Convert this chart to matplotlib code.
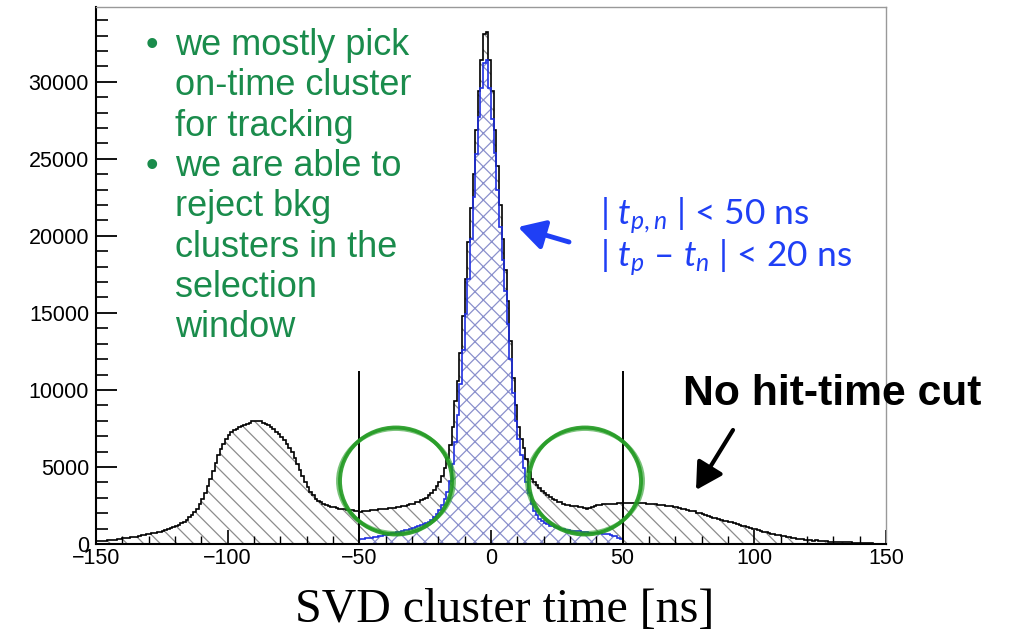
import numpy as np
import matplotlib
matplotlib.use("Agg")
import matplotlib.pyplot as plt
from matplotlib.patches import Ellipse
from matplotlib.ticker import MultipleLocator

plt.rcParams['font.family'] = ['Liberation Sans', 'DejaVu Sans']
plt.rcParams['mathtext.fontset'] = 'custom'
plt.rcParams['mathtext.rm'] = 'Lato'
plt.rcParams['mathtext.it'] = 'Lato:italic'
plt.rcParams['hatch.linewidth'] = 0.9

### SVD cluster time, 1 ns bins from -150 to 150
t_lo, t_hi = -150, 150

# all clusters (no hit-time cut), bins -150 .. -51
n_all_left = [190, 200, 210, 220, 230, 250, 270, 290, 320, 350,
              380, 400, 420, 440, 460, 480, 520, 560, 600, 640,
              670, 700, 730, 760, 800, 850, 900, 960, 1020, 1090,
              1170, 1260, 1360, 1460, 1580, 1720, 1880, 2070, 2300, 2580,
              2900, 3300, 3750, 4250, 4750, 5250, 5750, 6150, 6500, 6800,
              7050, 7250, 7380, 7480, 7580, 7650, 7720, 7800, 7870, 7950,
              8000, 7980, 7950, 7880, 7820, 7720, 7600, 7450, 7300, 7150,
              6950, 6750, 6500, 6250, 5950, 5600, 5200, 4800, 4400, 4050,
              3700, 3400, 3150, 2950, 2800, 2700, 2620, 2550, 2480, 2420,
              2380, 2340, 2300, 2270, 2250, 2230, 2200, 2180, 2150, 2120]
# bins -50 .. 44
n_all_core = [2100, 2110, 2140, 2160, 2180, 2200, 2220, 2240, 2250, 2270,
              2290, 2310, 2320, 2350, 2380, 2420, 2450, 2480, 2530, 2580,
              2620, 2700, 2750, 2850, 2920, 3000, 3150, 3300, 3500, 3750,
              4050, 4400, 4900, 5600, 6400, 7600, 9300, 10600, 12400, 14800,
              17200, 19600, 21800, 24000, 26900, 29400, 31400, 33100, 33200, 31400,
              29400, 26900, 24500, 22000, 19800, 17800, 15800, 13200, 10800, 9000,
              7600, 6800, 6200, 5500, 4700, 4200, 4000, 3800, 3650, 3450,
              3300, 3180, 3050, 2950, 2850, 2750, 2700, 2600, 2550, 2500,
              2470, 2480, 2450, 2420, 2380, 2320, 2300, 2330, 2400, 2450,
              2520, 2560, 2580, 2600, 2590]
# bins 45 .. 149
n_all_right = [2600, 2620, 2610, 2630, 2640, 2640, 2650, 2640, 2660, 2650,
               2650, 2640, 2650, 2630, 2620, 2610, 2600, 2580, 2560, 2540,
               2520, 2490, 2460, 2440, 2410, 2370, 2330, 2290, 2250, 2210,
               2170, 2130, 2110, 2040, 1980, 1930, 1900, 1820, 1770, 1710,
               1660, 1610, 1560, 1520, 1470, 1430, 1400, 1340, 1290, 1240,
               1190, 1140, 1090, 1040, 990, 950, 900, 860, 810, 770,
               720, 680, 640, 600, 570, 550, 500, 460, 430, 400,
               370, 340, 320, 300, 280, 240, 250, 220, 230, 200,
               190, 180, 170, 160, 155, 150, 160, 130, 120, 110,
               100, 120, 90, 80, 70, 80, 55, 45, 60, 35,
               30, 25, 20, 15, 10]

# clusters with |t_p,n| < 50 ns and |t_p - t_n| < 20 ns, bins -50 .. 49
n_sel_window = [320, 340, 360, 380, 400, 430, 460, 490, 530, 570,
                610, 650, 690, 730, 770, 810, 850, 890, 940, 990,
                1040, 1090, 1150, 1210, 1280, 1360, 1460, 1580, 1740, 1950,
                2200, 2500, 2900, 3400, 4100, 5200, 6600, 8400, 10400, 12600,
                14900, 17200, 19800, 22500, 25300, 27700, 29600, 31200, 31400, 29600,
                27600, 25400, 23000, 20600, 18400, 16400, 14300, 12000, 9800, 8000,
                6800, 5800, 4900, 4000, 3300, 2600, 2150, 1850, 1650, 1500,
                1380, 1280, 1200, 1140, 1090, 1040, 1000, 960, 930, 900,
                870, 850, 830, 815, 800, 780, 760, 745, 730, 715,
                700, 690, 680, 660, 640, 600, 550, 490, 420, 340]
sel_lo, sel_hi = -50, 50
cut_height = 11200

green_lines = [["we mostly pick", "on-time cluster", "for tracking"],
               ["we are able to", "reject bkg", "clusters in the", "selection", "window"]]

edges = np.arange(t_lo, t_hi + 1, 1)
n_all = np.array(n_all_left + n_all_core + n_all_right, dtype=float)
n_sel = np.concatenate([np.zeros(sel_lo - t_lo), n_sel_window, np.zeros(t_hi - sel_hi)])

W, H = 1013, 632
def px(x, y):
    return (x / W, 1 - y / H)

fig = plt.figure(figsize=(W / 100, H / 100), dpi=100)
ax = fig.add_axes([96 / W, 1 - 544 / H, 790 / W, 537 / H])

ax.stairs(n_all, edges, fill=True, facecolor='none', edgecolor='#8c8c8c', hatch='\\\\', lw=0)
ax.stairs(n_sel, edges, fill=True, facecolor='white', edgecolor='#8a90cc', hatch='xx', lw=0)
ax.stairs(n_all, edges, color='black', lw=1.2)
ax.stairs(n_sel, edges, color='#2030e0', lw=1.2)

ax.vlines([sel_lo, sel_hi], 0, cut_height, color='black', lw=1.4)

ax.set_xlim(t_lo, t_hi)
ax.set_ylim(0, 34850)
ax.xaxis.set_major_locator(MultipleLocator(50))
ax.xaxis.set_minor_locator(MultipleLocator(10))
ax.yaxis.set_major_locator(MultipleLocator(5000))
ax.yaxis.set_minor_locator(MultipleLocator(1000))
ax.tick_params(axis='y', which='major', direction='in', length=15, width=1.3, labelsize=15.5, pad=5)
ax.tick_params(axis='y', which='minor', direction='in', length=8.5, width=1.2)
ax.tick_params(axis='x', which='major', direction='in', length=10, width=1.2, labelsize=15.5, pad=3)
ax.tick_params(axis='x', which='minor', direction='in', length=5.5, width=1.0)
for s in ['top', 'right']:
    ax.spines[s].set_color('#999999')
    ax.spines[s].set_linewidth(1.0)
for s in ['left', 'bottom']:
    ax.spines[s].set_linewidth(1.5)

# green comments
green = '#1a8c4c'
baseline = 55
for block in green_lines:
    fig.text(*px(152, baseline), "\u2022", color=green, fontsize=26, ha='center', va='baseline')
    for line in block:
        fig.text(*px(175, baseline), line, color=green, fontsize=26, va='baseline')
        baseline += 40.3

# hand-drawn circles around the window edges
for cx in [396, 585]:
    for dw, dh, a in [(0, 0, 0.9), (4, -3, 0.6)]:
        e = Ellipse(px(cx, 481), (112 + dw) / W, (107 + dh) / H, transform=fig.transFigure,
                    fill=False, edgecolor='#229a22', lw=2.8, alpha=a)
        fig.add_artist(e)

# blue selection label
blue = '#1f3ff5'
fig.text(*px(600, 225), r'| $t_{p,n}$ | < 50 ns', color=blue, fontsize=25.5, family='Lato', va='baseline')
fig.text(*px(600, 267), r'| $t_p$ – $t_n$ | < 20 ns', color=blue, fontsize=25.5, family='Lato', va='baseline')
ax.annotate('', xy=px(518, 227), xytext=px(569, 242), xycoords='figure fraction',
            arrowprops=dict(arrowstyle='-|>,head_length=0.8,head_width=0.45', lw=3.5,
                            color=blue, mutation_scale=20, shrinkA=0, shrinkB=0))

fig.text(*px(683, 405), "No hit-time cut", fontsize=30.7, fontweight='bold', va='baseline')
ax.annotate('', xy=px(696, 490), xytext=px(733, 430), xycoords='figure fraction',
            arrowprops=dict(arrowstyle='-|>,head_length=0.8,head_width=0.45', lw=3,
                            color='black', mutation_scale=20, shrinkA=0, shrinkB=0))

fig.text(*px(505, 622), "SVD cluster time [ns]", fontsize=34.5, family='Liberation Serif',
         ha='center', va='baseline')

fig.savefig("out.png", dpi=100)
